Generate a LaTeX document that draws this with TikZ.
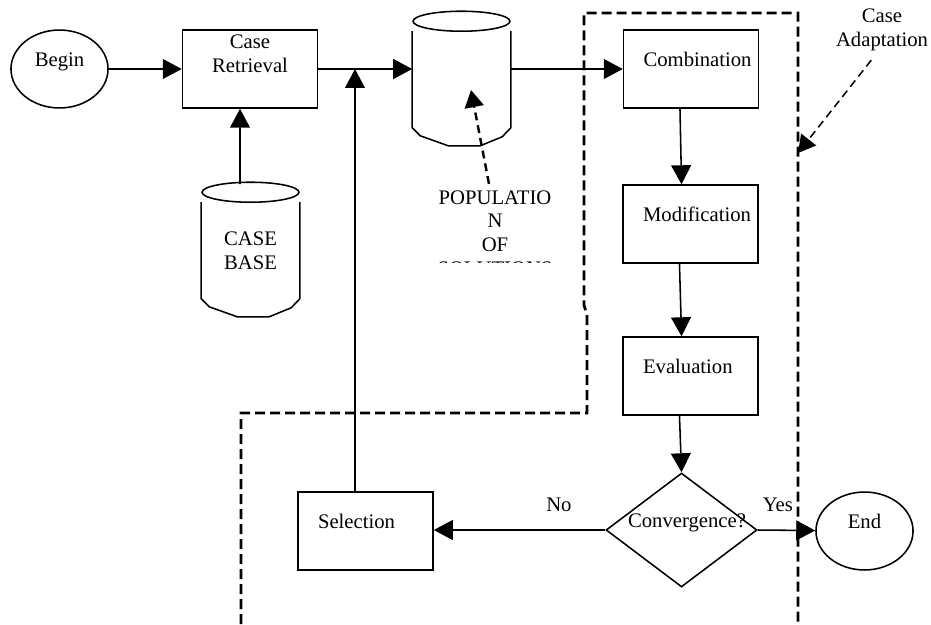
\documentclass[tikz,border=0pt]{standalone}
\usepackage{fontspec}
\setmainfont{Liberation Serif}
\usetikzlibrary{arrows.meta, positioning, shapes.geometric, calc}

\newcommand{\drum}[1]{%
	\draw ($(#1.north)+(0,-10)$) ellipse [x radius=28.1pt, y radius=5.8pt];
	\draw (#1.north west) -- (#1.south west) -- ++(8,8) -- ++(28,10) -- ++(32,0) -- ++(22,-9) -- (#1.south east) -- (#1.north east);
}

\begin{document}
\begin{tikzpicture}[x=0.58pt, y=-0.58pt, line width=0.9pt,
	font=\fontsize{12pt}{13.8pt}\selectfont,
	procbox/.style={draw, minimum width=78.3pt, minimum height=45.2pt, inner sep=0pt},
	boxtxt/.style={anchor=west, xshift=11.6pt, yshift=-17.4pt, inner sep=0pt},
	terminal/.style={draw, ellipse, minimum width=56.3pt, minimum height=45.2pt, inner sep=0pt, text height=8pt, text depth=11pt},
	decide/.style={draw, diamond, minimum width=87.6pt, minimum height=66.1pt, inner sep=0pt},
	store/.style={minimum width=56.3pt, minimum height=55.1pt, inner sep=0pt, align=center},
	arr/.style={-{Triangle[length=11pt, width=11.5pt]}},
	region/.style={dash pattern=on 5.8pt off 2.9pt, line width=1.6pt},
	pointer/.style={-{Triangle[length=10pt, width=11pt]}, dash pattern=on 4.6pt off 2.9pt}]
	\useasboundingbox (0,0) rectangle (931,624);

	% case adaptation region
	\draw[region] (241,624) -- (241,413) -- (587,413) -- (587,315) -- (584,305) -- (584,13) -- (798,13) -- (798,624);

	\node[terminal] (begin) at (59.5,69) {Begin};
	\node[procbox, label={[anchor=north, yshift=-2.9pt, align=center, inner sep=0pt]north:Case\\Retrieval}] (cr) at (250,69) {};
	\node[store] (cb) at (250.5,250.5) {CASE\\BASE};
	\drum{cb}
	\node[store] (pop) at (461.5,79.5) {};
	\drum{pop}
	\begin{scope}
		\clip (420,170) rectangle (580,262);
		\node[align=center] (poptxt) at (495,233) {POPULATIO\\N\\OF\\SOLUTIONS};
	\end{scope}
	\coordinate (popmark) at (471,90);

	\node[procbox, label={[boxtxt]north west:Combination}] (comb) at (691,69) {};
	\node[procbox, label={[boxtxt]north west:Modification}] (mod) at (690.5,224) {};
	\node[procbox, label={[boxtxt]north west:Evaluation}] (eval) at (690.5,376) {};
	\node[decide, label={[inner sep=0pt, xshift=3.2pt, yshift=4pt]center:Convergence?}] (conv) at (681.5,530) {};
	\node[procbox, label={[boxtxt]north west:Selection}] (sel) at (365.5,531) {};
	\node[terminal] (end) at (864.5,531) {End};

	\node[align=center] (ca) at (882,30) {Case\\Adaptation};
	\coordinate (catip) at (798,153);

	%main flow
	\draw[arr] (begin) -- (cr);
	\draw[arr] ($(cb.north)+(-10.5,-18)$) -- ([xshift=-5.8pt]cr.south);
	\draw[arr] (cr.east) -- (cr.east -| pop.west);
	\draw[arr] (pop.east |- comb.west) -- (comb.west);
	\draw[arr] ([xshift=-6.4pt]comb.south) -- ([xshift=-5.2pt]mod.north);
	\draw[arr] ([xshift=-6.4pt]mod.south) -- ([xshift=-5.2pt]eval.north);
	\draw[arr] ([xshift=-6.4pt]eval.south) -- (conv.north);
	\draw[arr] (conv.west) -- (conv.west -| sel.east) node[pos=0.27, above=7pt]{No};
	\draw[arr] (conv.east) -- (end) node[pos=0.35, above=7pt]{Yes};
	\draw[arr] ([xshift=-6.1pt]sel.north) -- ([xshift=-6.1pt]sel.north |- cr.east);

	%pointers
	\draw[pointer, line width=1.4pt] ([xshift=-3.5pt]poptxt.north) -- (popmark);
	\draw[pointer, shorten <=2pt] ([xshift=-5pt]ca.south) -- (catip);
\end{tikzpicture}
\end{document}
